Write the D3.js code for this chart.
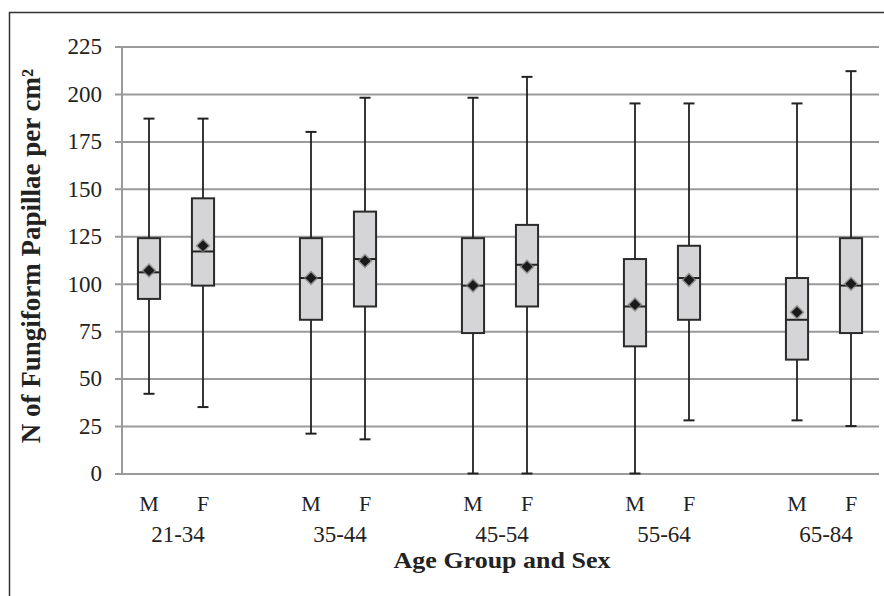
<!DOCTYPE html>
<html>
<head>
<meta charset="utf-8">
<script src="https://cdn.jsdelivr.net/npm/d3@7"></script>
<style>
  html, body { margin: 0; padding: 0; background: #fff; }
  svg { display: block; font-family: "Liberation Serif", "DejaVu Serif", serif; }
</style>
</head>
<body>
<div id="chart"></div>
<script>
// age groups, each with a male and a female box
const groups = ['21-34', '35-44', '45-54', '55-64', '65-84'];
const sexes = ['M', 'F'];

// box stats, ordered M, F for each group
const whiskerLow  = [42, 35, 21, 18, 0, 0, 0, 28, 28, 25];
const q1          = [92, 99, 81, 88, 74, 88, 67, 81, 60, 74];
const median      = [106, 117, 103, 113, 99, 110, 88, 103, 81, 99];
const q3          = [124, 145, 124, 138, 124, 131, 113, 120, 103, 124];
const whiskerHigh = [187, 187, 180, 198, 198, 209, 195, 195, 195, 212];
const means       = [107, 120, 103, 112, 99, 109, 89, 102, 85, 100];

const yTicks = [0, 25, 50, 75, 100, 125, 150, 175, 200, 225];

const W = 884, H = 596;
const margin = { top: 46.5, right: 6, bottom: 122.5, left: 122 };
const width = W - margin.left - margin.right;
const height = H - margin.top - margin.bottom;

// one slot per box plus an empty slot between groups
const slots = [];
groups.forEach((g, i) => {
  sexes.forEach(s => slots.push(g + '|' + s));
  if (i < groups.length - 1) slots.push(g + '|gap');
});

const boxes = [];
groups.forEach((g, gi) => {
  sexes.forEach((s, si) => {
    const i = gi * 2 + si;
    boxes.push({
      key: g + '|' + s, group: g, sex: s,
      lo: whiskerLow[i], q1: q1[i], med: median[i], q3: q3[i], hi: whiskerHigh[i], mean: means[i]
    });
  });
});

const svg = d3.select('#chart').append('svg')
  .attr('width', W)
  .attr('height', H);

// outer frame (cut off at right and bottom in the source)
svg.append('rect')
  .attr('x', 9.5).attr('y', 12.5)
  .attr('width', 1000).attr('height', 1000)
  .attr('fill', 'none')
  .attr('stroke', '#333')
  .attr('stroke-width', 1.5);

const chart = svg.append('g')
  .attr('transform', `translate(${margin.left}, ${margin.top})`);

const x = d3.scaleBand()
  .domain(slots)
  .range([0, width])
  .padding(0);

const y = d3.scaleLinear()
  .domain([0, 225])
  .range([height, 0]);

// gridlines + tick labels
const yAxis = chart.append('g')
  .attr('class', 'y-axis')
  .call(d3.axisLeft(y).tickValues(yTicks).tickSize(0).tickPadding(20));
yAxis.select('.domain').remove();
yAxis.selectAll('.tick line')
  .attr('x1', -7).attr('x2', width + 1)
  .attr('stroke', '#9a9a9c')
  .attr('stroke-width', 2);
yAxis.selectAll('.tick text')
  .attr('font-size', 23)
  .attr('fill', '#222')
  .attr('font-family', '"Liberation Serif", serif');

chart.append('line')
  .attr('x1', 0).attr('x2', 0)
  .attr('y1', y(225)).attr('y2', y(0))
  .attr('stroke', '#9a9a9c')
  .attr('stroke-width', 2);

// boxes
const bw = x.bandwidth() * 0.41;
const capW = 11;
const b = chart.selectAll('.box')
  .data(boxes)
  .enter()
  .append('g')
  .attr('class', 'box')
  .attr('transform', d => `translate(${x(d.key) + x.bandwidth() / 2}, 0)`);

b.append('line')
  .attr('x1', 0).attr('x2', 0)
  .attr('y1', d => y(d.lo)).attr('y2', d => y(d.hi))
  .attr('stroke', '#222').attr('stroke-width', 1.8);

b.append('line')
  .attr('x1', -capW / 2).attr('x2', capW / 2)
  .attr('y1', d => y(d.hi)).attr('y2', d => y(d.hi))
  .attr('stroke', '#222').attr('stroke-width', 2);

b.append('line')
  .attr('x1', -capW / 2).attr('x2', capW / 2)
  .attr('y1', d => y(d.lo)).attr('y2', d => y(d.lo))
  .attr('stroke', '#222').attr('stroke-width', 2);

b.append('rect')
  .attr('x', -bw / 2)
  .attr('y', d => y(d.q3))
  .attr('width', bw)
  .attr('height', d => y(d.q1) - y(d.q3))
  .attr('fill', '#d5d5d7')
  .attr('stroke', '#2a2a2a')
  .attr('stroke-width', 2);

b.append('line')
  .attr('x1', -bw / 2).attr('x2', bw / 2)
  .attr('y1', d => y(d.med)).attr('y2', d => y(d.med))
  .attr('stroke', '#222').attr('stroke-width', 2);

// mean diamond with soft halo
b.append('path')
  .attr('d', 'M0,-7.5L7.5,0L0,7.5L-7.5,0Z')
  .attr('transform', d => `translate(0, ${y(d.mean)})`)
  .attr('fill', '#777')
  .attr('opacity', 0.7);
b.append('path')
  .attr('d', 'M0,-5.5L5.5,0L0,5.5L-5.5,0Z')
  .attr('transform', d => `translate(0, ${y(d.mean)})`)
  .attr('fill', '#1a1a1a');

// sex labels under each box
const xAxis = chart.append('g')
  .attr('transform', `translate(0, ${height})`)
  .call(d3.axisBottom(x)
    .tickValues(boxes.map(d => d.key))
    .tickFormat(k => k.split('|')[1])
    .tickSize(0)
    .tickPadding(22));
xAxis.select('.domain').remove();
xAxis.selectAll('.tick text')
  .attr('font-size', 22)
  .attr('fill', '#222')
  .attr('font-family', '"Liberation Serif", serif');

// age group labels
chart.selectAll('.age')
  .data(groups)
  .enter()
  .append('text')
  .attr('class', 'age')
  .attr('x', g => (x(g + '|M') + x(g + '|F') + x.bandwidth()) / 2 + 2)
  .attr('y', height + 68.5)
  .attr('text-anchor', 'middle')
  .attr('font-size', 23)
  .attr('fill', '#222')
  .text(g => g);

// axis titles
svg.append('text')
  .attr('transform', `translate(${margin.left + width / 2 + 2}, 568) scale(1, 0.9)`)
  .attr('text-anchor', 'middle')
  .attr('font-size', 26)
  .attr('font-weight', 'bold')
  .attr('fill', '#222')
  .text('Age Group and Sex');

svg.append('text')
  .attr('transform', 'translate(40, 256) rotate(-90)')
  .attr('text-anchor', 'middle')
  .attr('font-size', 27)
  .attr('font-weight', 'bold')
  .attr('fill', '#222')
  .text('N of Fungiform Papillae per cm²');
</script>
</body>
</html>
